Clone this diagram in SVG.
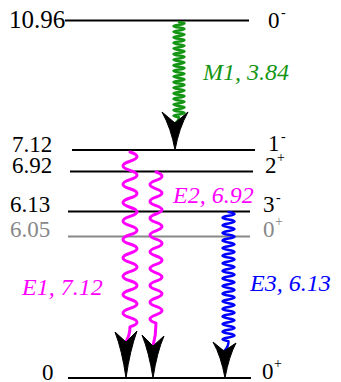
<svg xmlns="http://www.w3.org/2000/svg" width="341" height="382" viewBox="0 0 341 382">
<style>
.lv{stroke:#000;stroke-width:2;fill:none}
.lvg{stroke:#888;stroke-width:2;fill:none}
.w{fill:none;stroke-linecap:round;stroke-linejoin:round}
.ah{fill:#000;stroke:#000;stroke-width:1}
.t{font-family:'Liberation Serif',serif}
.n{font-size:23px}
.s{font-size:14px}
.l{font-size:24px;font-style:italic}
</style>
<rect width="341" height="382" fill="#fff"/>
<g id="level-10.96">
<line class="lv" x1="65" y1="20.5" x2="249" y2="20.5"/>
<text class="t" x="9" y="28" font-family="Liberation Serif" style="font-size:25px">10.96</text>
<text class="t n" x="268" y="28" font-family="Liberation Serif">0</text><text class="t s" x="281" y="17" font-family="Liberation Serif">-</text>
</g>
<g id="level-7.12">
<line class="lv" x1="72" y1="150" x2="255" y2="150"/>
<text class="t n" x="12" y="152" font-family="Liberation Serif">7.12</text>
<text class="t n" x="268" y="151" font-family="Liberation Serif">1</text><text class="t s" x="281" y="141" font-family="Liberation Serif">-</text>
</g>
<g id="level-6.92">
<line class="lv" x1="70" y1="171.5" x2="253" y2="171.5"/>
<text class="t n" x="12" y="173" font-family="Liberation Serif">6.92</text>
<text class="t n" x="265" y="173" font-family="Liberation Serif">2</text><text class="t s" x="277" y="162" font-family="Liberation Serif">+</text>
</g>
<g id="level-6.13">
<line class="lv" x1="68" y1="211.5" x2="250" y2="211.5"/>
<text class="t n" x="10" y="212" font-family="Liberation Serif">6.13</text>
<text class="t n" x="263" y="212" font-family="Liberation Serif">3</text><text class="t s" x="276" y="202" font-family="Liberation Serif">-</text>
</g>
<g id="level-6.05" fill="#888">
<line class="lvg" x1="68" y1="236.5" x2="250" y2="236.5"/>
<text class="t n" x="10" y="237" font-family="Liberation Serif">6.05</text>
<text class="t n" x="263" y="237" font-family="Liberation Serif">0</text><text class="t s" x="275" y="226" font-family="Liberation Serif">+</text>
</g>
<g id="level-0">
<line class="lv" x1="68" y1="378" x2="251" y2="378"/>
<text class="t n" x="42" y="380" font-family="Liberation Serif">0</text>
<text class="t n" x="262" y="379" font-family="Liberation Serif">0</text><text class="t s" x="274" y="368" font-family="Liberation Serif">+</text>
</g>
<g id="transitions">
<path class="w" stroke="#149614" stroke-width="2.5" d="M179,22 q11,1.4 0,2.8 t0,2.8 t0,2.8 t0,2.8 t0,2.8 t0,2.8 t0,2.8 t0,2.8 t0,2.8 t0,2.8 t0,2.8 t0,2.8 t0,2.8 t0,2.8 t0,2.8 t0,2.8 t0,2.8 t0,2.8 t0,2.8 t0,2.8 t0,2.8 t0,2.8 t0,2.8 t0,2.8 t0,2.8 t0,2.8 t0,2.8 t0,2.8 t0,2.8 t0,2.8 t0,2.8 t0,2.8 t0,2.8 t0,2.8 q0,3 -4,6"/>
<path class="ah" d="M175,150 Q171,128 162,112 L175,123 L188,112 Q179,128 175,150 Z"/>
<path class="w" stroke="#ff00ff" stroke-width="3" d="M130,152 q14,4.6 0,9.2 t0,9.2 t0,9.2 t0,9.2 t0,9.2 t0,9.2 t0,9.2 t0,9.2 t0,9.2 t0,9.2 t0,9.2 t0,9.2 t0,9.2 t0,9.2 t0,9.2 t0,9.2 t0,9.2 t0,9.2 t0,9.2 q0,8 -4,15"/>
<path class="ah" d="M126,378 Q122,350 115,332 L126,342 L137,331 Q130,350 126,378 Z"/>
<path class="w" stroke="#ff00ff" stroke-width="3" d="M156,172 q12,4.2 0,8.4 t0,8.4 t0,8.4 t0,8.4 t0,8.4 t0,8.4 t0,8.4 t0,8.4 t0,8.4 t0,8.4 t0,8.4 t0,8.4 t0,8.4 t0,8.4 t0,8.4 t0,8.4 t0,8.4 t0,8.4 q0,12 -3,23"/>
<path class="ah" d="M153,378 Q149,352 142,335 L153,346 L164,336 Q157,352 153,378 Z"/>
<path class="w" stroke="#0000ff" stroke-width="2.5" d="M228.5,212 q12,1.9 0,3.8 t0,3.8 t0,3.8 t0,3.8 t0,3.8 t0,3.8 t0,3.8 t0,3.8 t0,3.8 t0,3.8 t0,3.8 t0,3.8 t0,3.8 t0,3.8 t0,3.8 t0,3.8 t0,3.8 t0,3.8 t0,3.8 t0,3.8 t0,3.8 t0,3.8 t0,3.8 t0,3.8 t0,3.8 t0,3.8 t0,3.8 t0,3.8 t0,3.8 t0,3.8 t0,3.8 t0,3.8 t0,3.8 t0,3.8 q0,6 -4.5,10"/>
<path class="ah" d="M225,378 Q221,356 213,342 L224,351 L236,343 Q229,356 225,378 Z"/>
<text class="t l" x="203" y="80" fill="#149614" font-family="Liberation Serif">M1, 3.84</text>
<text class="t l" x="173" y="203" fill="#ff00ff" font-family="Liberation Serif">E2, 6.92</text>
<text class="t l" x="22" y="295" fill="#ff00ff" font-family="Liberation Serif">E1, 7.12</text>
<text class="t l" x="250" y="291" fill="#0000ff" font-family="Liberation Serif">E3, 6.13</text>
</g>
</svg>
